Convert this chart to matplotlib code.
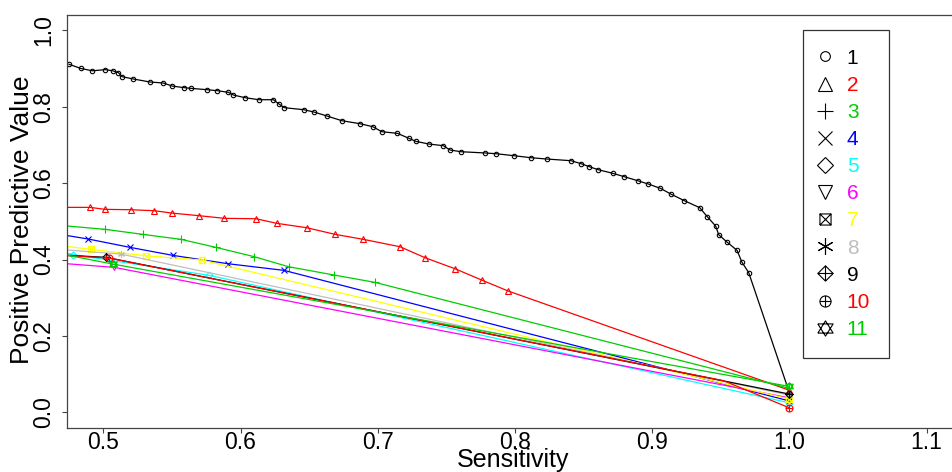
import matplotlib
matplotlib.use("Agg")
import matplotlib.pyplot as plt
from matplotlib.path import Path
from matplotlib.lines import Line2D

plt.rcParams.update({
    "font.family": ["Liberation Sans", "DejaVu Sans"],
    "figure.facecolor": "white", "axes.facecolor": "white",
})

# ── data ──────────────────────────────────────────────────────────────────
sens1 = [0.475, 0.4837, 0.492, 0.5015, 0.5068, 0.511, 0.5136, 0.5219, 0.534, 0.5437,
         0.5503, 0.5586, 0.5639, 0.5754, 0.5829, 0.5911, 0.5948, 0.6033, 0.6133, 0.6239,
         0.6283, 0.6319, 0.6461, 0.6536, 0.663, 0.6738, 0.6871, 0.6964, 0.7029, 0.7143,
         0.7228, 0.7277, 0.7372, 0.7478, 0.7527, 0.7607, 0.778, 0.7862, 0.7993, 0.8115,
         0.8232, 0.8409, 0.8482, 0.8542, 0.8608, 0.8713, 0.8797, 0.8895, 0.8972, 0.906,
         0.914, 0.9235, 0.9347, 0.9402, 0.9463, 0.9485, 0.9548, 0.9619, 0.9653, 0.9704, 1.0]
ppv1 = [0.911, 0.900, 0.894, 0.897, 0.894, 0.889, 0.8786, 0.8725, 0.8647, 0.862,
        0.854, 0.850, 0.848, 0.8446, 0.842, 0.8377, 0.8306, 0.8236, 0.8183, 0.8183,
        0.8063, 0.7974, 0.7922, 0.786, 0.7757, 0.7634, 0.7555, 0.7477, 0.7346, 0.7303,
        0.7172, 0.7094, 0.7024, 0.698, 0.6867, 0.6822, 0.679, 0.677, 0.6718, 0.6666,
        0.6631, 0.6587, 0.6509, 0.643, 0.635, 0.6257, 0.6168, 0.6063, 0.5977, 0.5864,
        0.5707, 0.554, 0.5357, 0.512, 0.4877, 0.465, 0.445, 0.424, 0.394, 0.3655, 0.052]

sens2 = [0.47, 0.4903, 0.5012, 0.5202, 0.5372, 0.5499, 0.57, 0.5882, 0.6113, 0.6264,
         0.6482, 0.6689, 0.6895, 0.7163, 0.7345, 0.7563, 0.7758, 0.7952, 1.0]
ppv2 = [0.5366, 0.5366, 0.5314, 0.5304, 0.5278, 0.5217, 0.5147, 0.5079, 0.5068, 0.4948,
        0.4833, 0.466, 0.4529, 0.4335, 0.4048, 0.376, 0.3463, 0.3175, 0.058]

sens3 = [0.47, 0.5015, 0.5287, 0.5566, 0.5821, 0.6101, 0.6351, 0.6684, 0.698, 1.0]
ppv3 = [0.489, 0.479, 0.466, 0.4529, 0.4319, 0.4074, 0.3812, 0.3594, 0.3403, 0.063]

sens4 = [0.47, 0.4891, 0.5195, 0.5506, 0.5911, 0.6317, 1.0]
ppv4 = [0.465, 0.4537, 0.4319, 0.411, 0.389, 0.3717, 0.030]

sens5 = [0.47, 0.4777, 0.5773, 1.0]
ppv5 = [0.420, 0.413, 0.3586, 0.025]

sens6 = [0.47, 0.508, 1.0]
ppv6 = [0.390, 0.3796, 0.038]

sens7 = [0.47, 0.4908, 0.5309, 0.5717, 1.0]
ppv7 = [0.436, 0.4267, 0.410, 0.3987, 0.035]

sens8 = [0.47, 0.5127, 1.0]
ppv8 = [0.426, 0.4144, 0.045]

sens9 = [0.47, 0.502, 1.0]
ppv9 = [0.412, 0.4058, 0.048]

sens10 = [0.47, 0.504, 0.952, 1.0]
ppv10 = [0.411, 0.404, 0.083, 0.012]

sens11 = [0.47, 0.5073, 1.0]
ppv11 = [0.414, 0.388, 0.068]

series_x = [sens1, sens2, sens3, sens4, sens5, sens6, sens7, sens8, sens9, sens10, sens11]
series_y = [ppv1, ppv2, ppv3, ppv4, ppv5, ppv6, ppv7, ppv8, ppv9, ppv10, ppv11]
labels = [str(i) for i in range(1, 12)]
colors = ["#000000", "#FF0000", "#00CD00", "#0000FF", "#00FFFF", "#FF00FF",
          "#FFFF00", "#BEBEBE", "#000000", "#FF0000", "#00CD00"]

# ── R-style pch symbols ───────────────────────────────────────────────────
M, L = Path.MOVETO, Path.LINETO
sq_x = Path([(-1, -1), (1, -1), (1, 1), (-1, 1), (-1, -1), (-1, -1), (1, 1), (-1, 1), (1, -1)],
            [M, L, L, L, L, M, L, M, L])
dia_plus = Path([(0, -1), (1, 0), (0, 1), (-1, 0), (0, -1), (0, -1), (0, 1), (-1, 0), (1, 0)],
                [M, L, L, L, L, M, L, M, L])
circ_plus = Path.make_compound_path(
    Path.unit_circle(), Path([(-1, 0), (1, 0), (0, -1), (0, 1)], [M, L, M, L]))
two_tri = Path([(-1, -0.6), (1, -0.6), (0, 1), (-1, -0.6), (-1, 0.6), (1, 0.6), (0, -1), (-1, 0.6)],
               [M, L, L, L, M, L, L, L])
markers = ["o", "^", "+", "x", "D", "v", sq_x, (6, 2, 0), dia_plus, circ_plus, two_tri]
plot_ms = [3.2, 4.5, 6, 4.5, 3.5, 4.5, 4.5, 5, 5.5, 5, 5.5]
leg_ms = [7, 10, 12, 10, 8.5, 10, 8, 12, 11, 8, 11]

fig = plt.figure(figsize=(9.52, 4.72), dpi=100)
ax = fig.add_axes([66.7 / 952, 1 - 427.7 / 472, (959.5 - 66.7) / 952, (427.7 - 15) / 472])

for i, (xs, ys, c, m, ms) in enumerate(zip(series_x, series_y, colors, markers, plot_ms)):
    every = [0, 1, 3] if i == 9 else None  # bend point of series 10 sits in the cluster
    ax.plot(xs, ys, color=c, lw=0.9, marker=m, ms=ms, mfc="none", mec=c, mew=0.8,
            markevery=every)

ax.set_xlim(0.4733, 1.124)
ax.set_ylim(-0.04, 1.04)
ax.set_xticks([0.5, 0.6, 0.7, 0.8, 0.9, 1.0, 1.1])
ax.set_xticklabels(["0.5", "0.6", "0.7", "0.8", "0.9", "1.0", "1.1"])
ax.set_yticks([0.0, 0.2, 0.4, 0.6, 0.8, 1.0])
ax.set_yticklabels(["0.0", "0.2", "0.4", "0.6", "0.8", "1.0"], rotation=90, va="center")
ax.tick_params(axis="both", direction="out", length=3.6, width=0.8, color="#444444",
               labelsize=16.5)
ax.tick_params(axis="x", pad=-1)
ax.tick_params(axis="y", pad=5)
for s in ax.spines.values():
    s.set_color("#444444")
    s.set_linewidth(0.9)

ax.set_xlabel("Sensitivity", fontsize=18)
ax.set_ylabel("Positive Predictive Value", fontsize=19, va="center")
ax.xaxis.set_label_coords(513 / 952, (472 - 448) / 472, transform=fig.transFigure)
ax.yaxis.set_label_coords(22 / 952, (472 - 220) / 472, transform=fig.transFigure)

handles = [Line2D([], [], ls="none", marker=m, ms=ms, mfc="none", mec="black", mew=0.8)
           for m, ms in zip(markers, leg_ms)]
leg = fig.legend(handles, labels, loc="upper left", bbox_to_anchor=(803 / 952, 1 - 30 / 472),
                 borderaxespad=0, fontsize=15, labelspacing=0.39, borderpad=0.9,
                 handlelength=0.35, handletextpad=0.85, fancybox=False, framealpha=1)
leg.get_frame().set_edgecolor("#333333")
leg.get_frame().set_linewidth(0.9)
for t, c in zip(leg.get_texts(), colors):
    t.set_color(c)

fig.savefig("out.png", dpi=100)
